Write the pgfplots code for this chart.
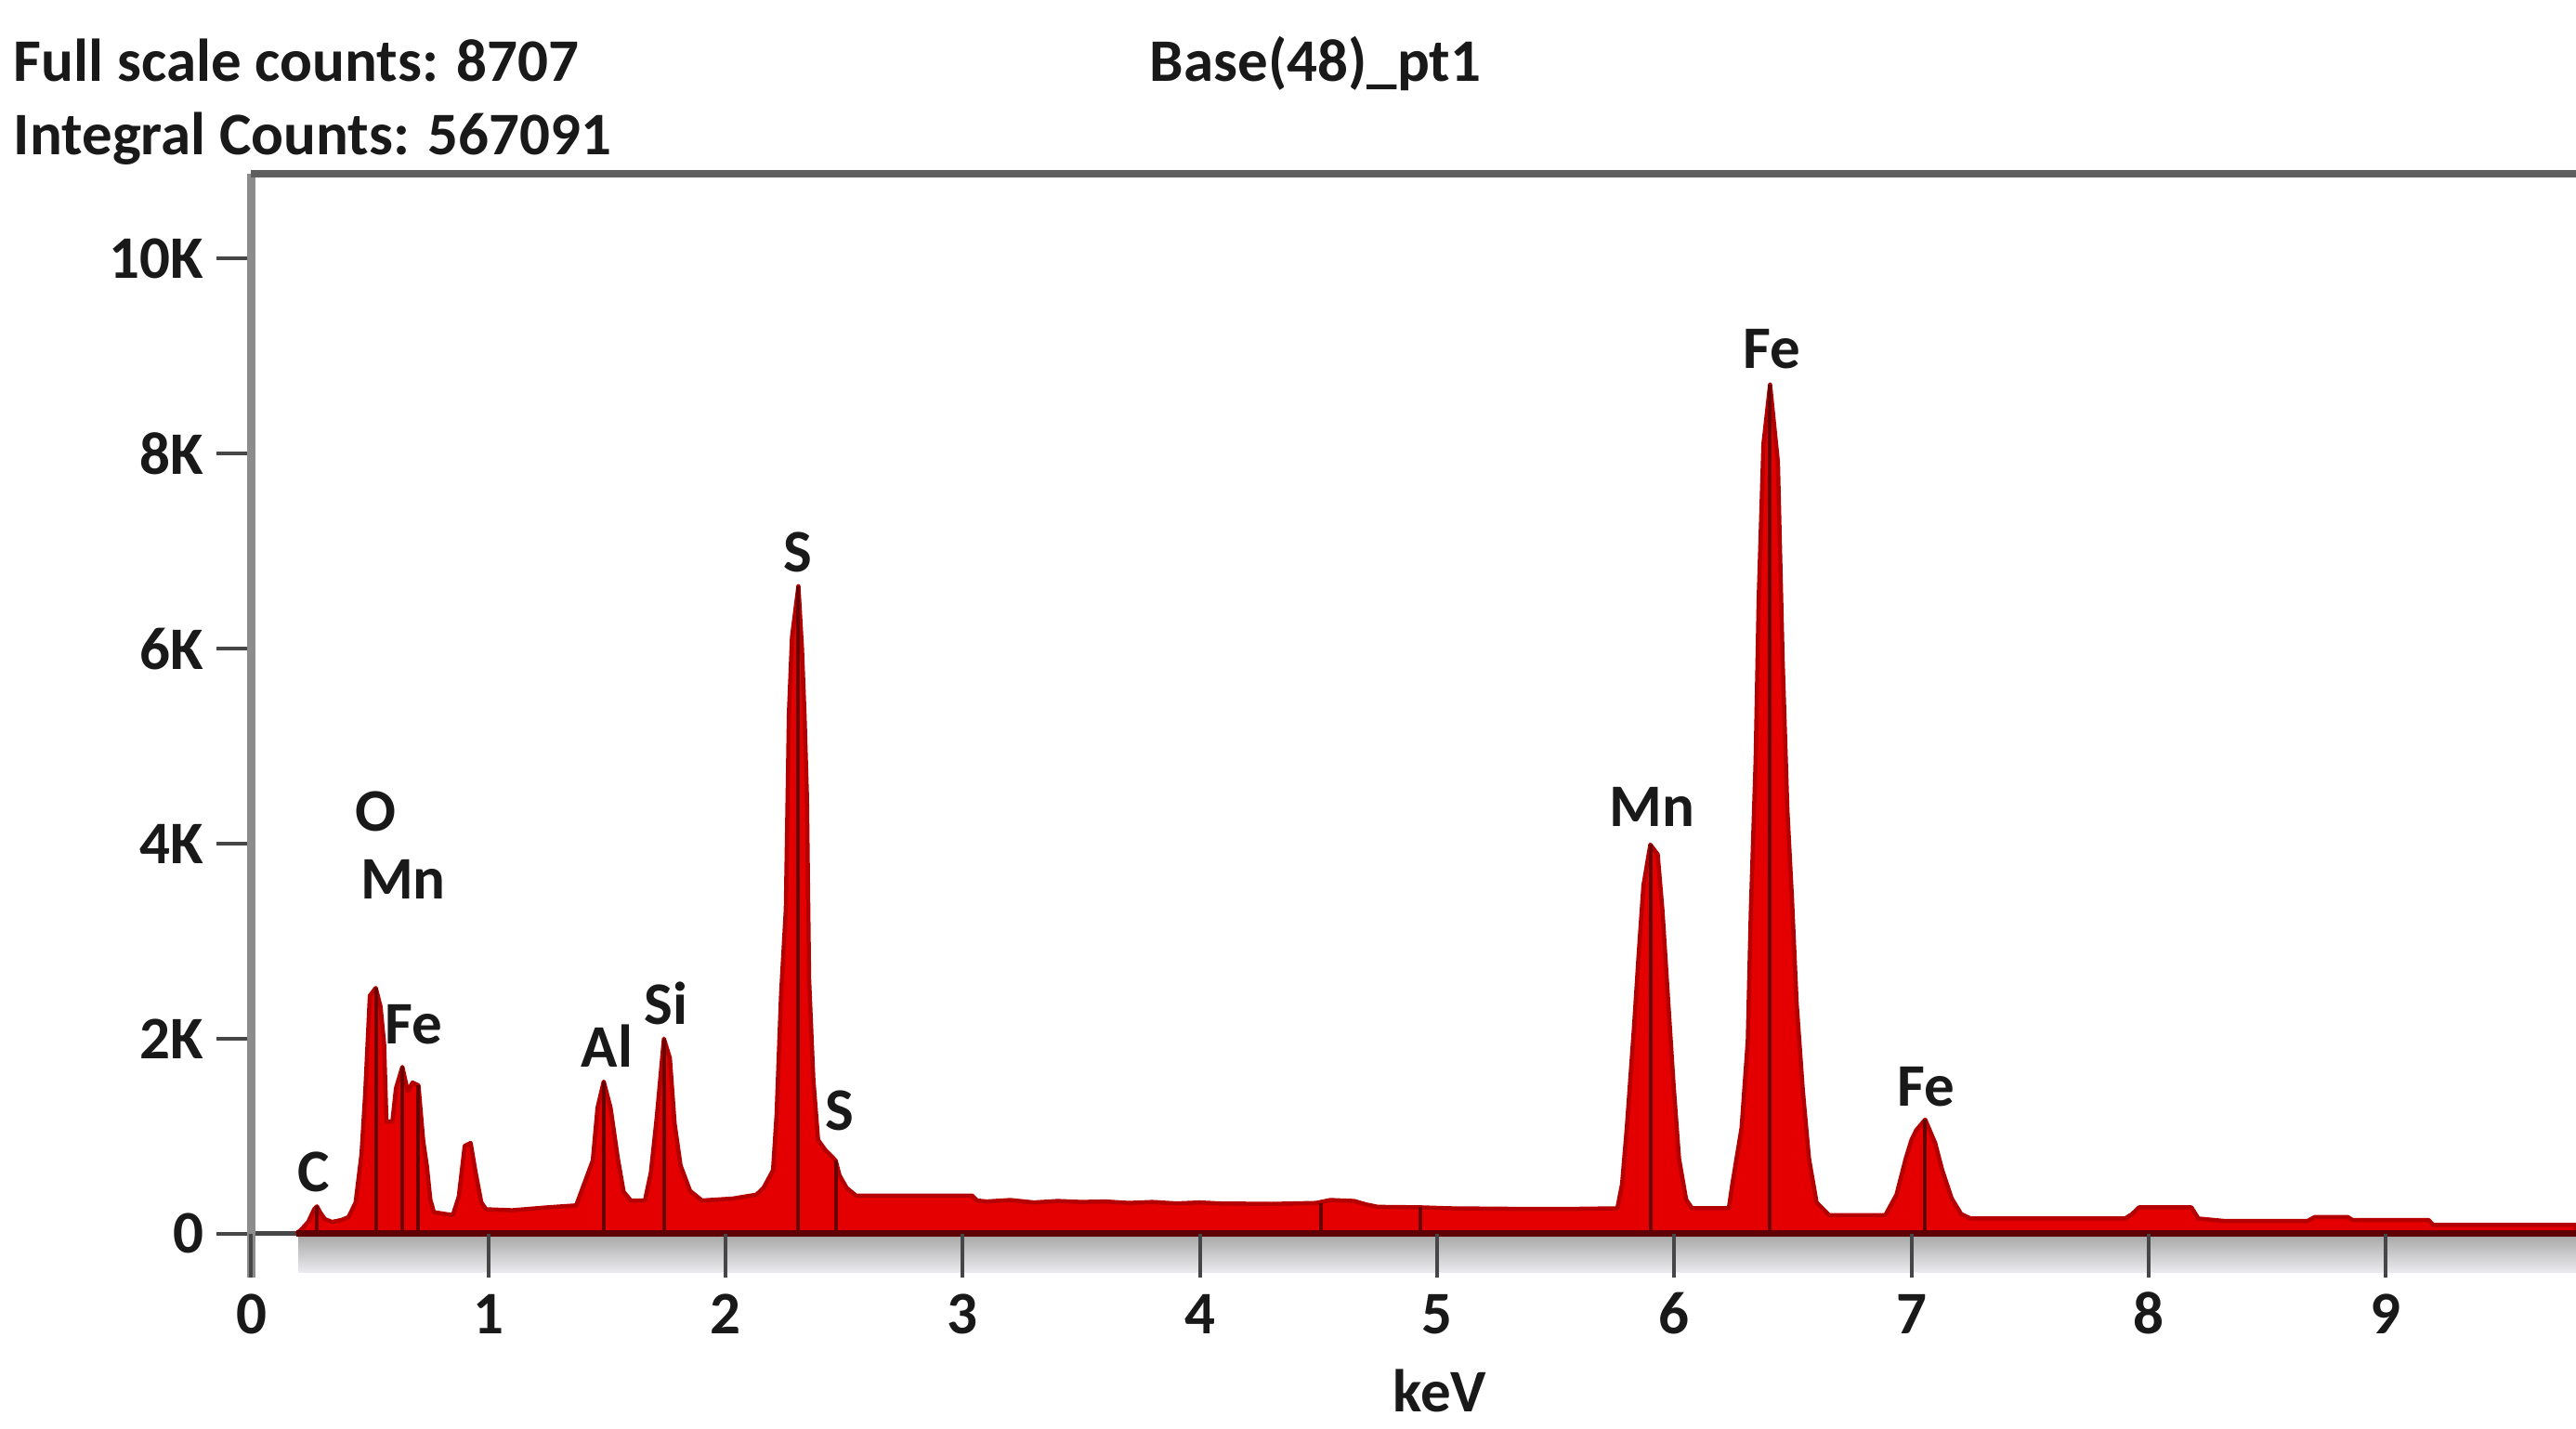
\documentclass[border=0pt]{standalone}
\usepackage{pgfplots}
\pgfplotsset{compat=1.18}
\usepackage{fontspec}
\setmainfont{Carlito}

\definecolor{specred}{RGB}{228,0,0}
\definecolor{specedge}{RGB}{180,0,0}
\definecolor{markline}{RGB}{105,0,0}
\definecolor{baseline}{RGB}{95,0,5}
\definecolor{axgray}{RGB}{140,140,140}
\definecolor{topgray}{RGB}{95,95,95}
\definecolor{tickgray}{RGB}{70,70,70}
\definecolor{bandtop}{RGB}{165,165,165}
\definecolor{bandbot}{RGB}{236,236,240}

% spectrum, keV vs counts
\pgfplotstableread{
x y
0.19 0
0.21 40
0.24 120
0.265 250
0.277 280
0.29 220
0.31 150
0.34 120
0.38 140
0.41 170
0.44 320
0.465 820
0.48 1420
0.50 2440
0.525 2520
0.545 2330
0.56 1950
0.57 1150
0.595 1150
0.61 1490
0.637 1710
0.66 1460
0.68 1550
0.705 1520
0.725 950
0.74 700
0.755 350
0.77 220
0.85 190
0.875 380
0.90 900
0.925 930
0.945 640
0.97 320
0.99 250
1.10 240
1.25 270
1.37 290
1.44 750
1.46 1290
1.486 1560
1.515 1290
1.545 780
1.57 430
1.60 340
1.66 340
1.685 630
1.71 1200
1.74 2000
1.765 1800
1.785 1130
1.81 700
1.85 440
1.90 340
2.03 360
2.13 400
2.16 470
2.20 650
2.215 1220
2.234 2460
2.254 3330
2.267 5340
2.28 6120
2.307 6640
2.322 6000
2.333 5300
2.343 4470
2.352 2610
2.37 1580
2.39 960
2.42 860
2.464 750
2.48 600
2.51 470
2.55 390
3.04 390
3.06 340
3.10 330
3.20 345
3.30 320
3.40 335
3.50 325
3.60 330
3.70 315
3.80 325
3.90 310
4.00 320
4.08 310
4.30 305
4.49 315
4.55 345
4.65 335
4.70 300
4.75 275
4.93 270
5.05 260
5.30 255
5.60 255
5.76 260
5.78 510
5.80 1090
5.83 2110
5.85 2870
5.87 3570
5.899 3990
5.93 3890
5.95 3320
5.97 2550
5.997 1530
6.02 770
6.05 350
6.075 260
6.23 260
6.245 510
6.284 1090
6.31 1980
6.323 3320
6.343 4850
6.356 6510
6.376 8100
6.404 8707
6.437 7910
6.457 5870
6.477 4340
6.496 3450
6.516 2360
6.542 1470
6.568 770
6.60 320
6.653 190
6.89 190
6.937 400
6.976 770
7.00 960
7.02 1060
7.058 1170
7.10 930
7.13 650
7.17 360
7.21 200
7.25 155
7.90 155
7.93 200
7.96 270
8.18 270
8.21 155
8.32 130
8.67 130
8.70 170
8.84 170
8.86 140
9.18 140
9.20 90
9.802 90
9.802 0
}\spectrum

\begin{document}
\begin{tikzpicture}[font=\fontsize{13}{15.6}\selectfont\bfseries, text=black!90]
\useasboundingbox (-54.1pt,-32.6pt) rectangle (500.5pt,275pt);

\begin{axis}[
  scale only axis, width=500.5pt, height=237.6pt,
  at={(0,0)}, anchor=south west,
  xmin=0, xmax=9.802, ymin=-450, ymax=10870,
  clip=false,
  axis line style={draw=none},
  xtick=\empty,
  ytick={0,2000,4000,6000,8000,10000},
  yticklabels={0,2K,4K,6K,8K,10K},
  scaled y ticks=false,
  ytick pos=left, tick align=outside, major tick length=7.4pt,
  ytick style={color=tickgray, line width=0.8pt},
  yticklabel style={anchor=east, inner sep=0pt, xshift=-2.7pt},
]
% shaded band under the baseline
\fill[top color=bandtop, bottom color=bandbot] (axis cs:0.2,0) rectangle (axis cs:9.802,-400);
\draw[tickgray, line width=1pt] (axis cs:0,0) -- (axis cs:0.2,0);

\addplot[draw=specedge, line width=0.9pt, fill=specred, line join=round] table {\spectrum};
\addplot[ycomb, draw=markline, line width=0.8pt, mark=none] coordinates {
  (0.277,280) (0.525,2520) (0.637,1710) (0.705,1520) (1.486,1560) (1.74,2000)
  (2.307,6640) (2.464,750) (4.51,315) (4.93,270) (5.899,3990) (6.404,8707) (7.058,1170)};
\addplot[draw=baseline, line width=1.4pt, mark=none] coordinates {(0.19,0) (9.802,0)};

\draw[axgray, line width=1.8pt] (rel axis cs:0,0) -- (rel axis cs:0,1);
\draw[topgray, line width=1.6pt] (rel axis cs:0,1) -- (rel axis cs:1,1);

\node[anchor=base] at (axis cs:0.265,430) {C};
\node[anchor=base] at (axis cs:0.525,4130) {O};
\node[anchor=base] at (axis cs:0.64,3430) {Mn};
\node[anchor=base] at (axis cs:0.685,1950) {Fe};
\node[anchor=base] at (axis cs:1.50,1710) {Al};
\node[anchor=base] at (axis cs:1.75,2150) {Si};
\node[anchor=base] at (axis cs:2.305,6790) {S};
\node[anchor=base] at (axis cs:2.48,1060) {S};
\node[anchor=base] at (axis cs:5.905,4180) {Mn};
\node[anchor=base] at (axis cs:6.41,8870) {Fe};
\node[anchor=base] at (axis cs:7.06,1310) {Fe};
\end{axis}

\begin{axis}[
  scale only axis, width=500.5pt, height=237.6pt,
  at={(0,0)}, anchor=south west,
  xmin=0, xmax=9.802, ymin=-450, ymax=10870,
  axis line style={draw=none},
  ytick=\empty,
  xtick={0,1,2,3,4,5,6,7,8,9},
  xticklabels={0,1,2,3,4,5,6,7,8,9},
  xtick pos=bottom, tick align=inside, major tick length=9.4pt,
  xtick style={color=tickgray, line width=0.8pt},
  xticklabel style={anchor=base, yshift=-12.2pt},
]
\end{axis}

\node[anchor=base] at (255.9pt,-29pt) {keV};
\node[anchor=base west, inner sep=0pt] at (-51.3pt,257.4pt) {Full scale counts: 8707};
\node[anchor=base west, inner sep=0pt] at (-51.3pt,241.6pt) {Integral Counts: 567091};
\node[anchor=base] at (229.1pt,257.4pt) {Base(48)\_pt1};
\end{tikzpicture}
\end{document}
